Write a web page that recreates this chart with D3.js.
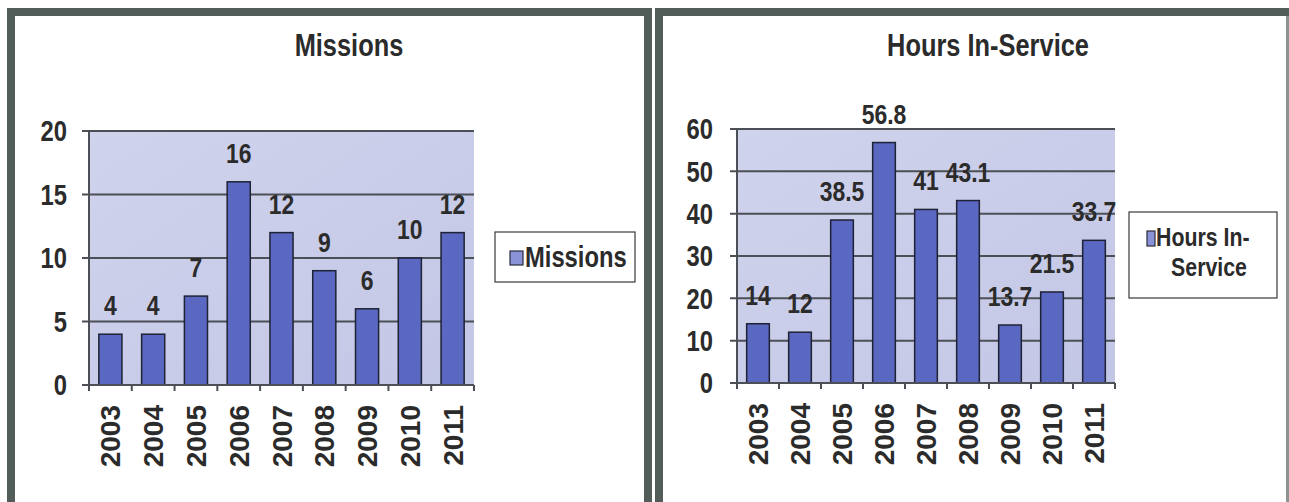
<!DOCTYPE html>
<html>
<head>
<meta charset="utf-8">
<script src="https://cdn.jsdelivr.net/npm/d3@7"></script>
<style>
  html, body { margin: 0; padding: 0; background: #ffffff; }
  svg { display: block; }
  text { font-family: "Liberation Sans", Arial, sans-serif; font-weight: bold; fill: #2b2b2b; }
</style>
</head>
<body>
<svg id="chart" width="1289" height="502"></svg>
<script>
// ---- data ----
const years = ["2003", "2004", "2005", "2006", "2007", "2008", "2009", "2010", "2011"];
const missions = [4, 4, 7, 16, 12, 9, 6, 10, 12];
const hours = [14, 12, 38.5, 56.8, 41, 43.1, 13.7, 21.5, 33.7];
const missionTicks = [0, 5, 10, 15, 20];
const hourTicks = [0, 10, 20, 30, 40, 50, 60];
const missionTitle = "Missions";
const hoursTitle = "Hours In-Service";
const missionLegend = ["Missions"];
const hoursLegend = ["Hours In-", "Service"];

const NARROW = 0.82;
const svg = d3.select("#chart");

// narrow (condensed) text helper: real text, horizontally condensed
function ntext(parent, x, y, anchor, size, txt) {
  const gg = parent.append("g").attr("transform", `translate(${x},${y}) scale(${NARROW},1)`);
  return gg.append("text").attr("x", 0).attr("y", 0).attr("text-anchor", anchor)
    .style("font-size", size + "px").text(txt);
}

// panel frames
const frameColor = "#525c59";
svg.append("rect").attr("x", 11).attr("y", 12).attr("width", 637).attr("height", 520)
  .attr("fill", "#fff").attr("stroke", frameColor).attr("stroke-width", 8);
svg.append("rect").attr("x", 659).attr("y", 12).attr("width", 650).attr("height", 520)
  .attr("fill", "#fff").attr("stroke", frameColor).attr("stroke-width", 8);
svg.append("rect").attr("x", 1286).attr("y", 16).attr("width", 3).attr("height", 486).attr("fill", "#8c9391");

// gradient for plot area
const defs = svg.append("defs");
const grad = defs.append("linearGradient").attr("id", "plotbg").attr("x1", 0).attr("y1", 0).attr("x2", 1).attr("y2", 1);
grad.append("stop").attr("offset", "0%").attr("stop-color", "#d0d3ec");
grad.append("stop").attr("offset", "100%").attr("stop-color", "#c3c7e6");

function drawChart(cfg) {
  const g = svg.append("g");
  const x = d3.scaleBand().domain(years).range([cfg.left, cfg.right]).paddingInner(0.46).paddingOuter(0.23);
  const y = d3.scaleLinear().domain([0, cfg.max]).range([cfg.bottom, cfg.top]);

  // plot background
  g.append("rect").attr("x", cfg.left).attr("y", y(cfg.max)).attr("width", cfg.right - cfg.left)
    .attr("height", y(0) - y(cfg.max)).attr("fill", "url(#plotbg)");

  // gridlines + y ticks
  g.selectAll(".grid").data(cfg.ticks).enter().append("line")
    .attr("x1", cfg.left - 7).attr("x2", cfg.right)
    .attr("y1", d => y(d)).attr("y2", d => y(d))
    .attr("stroke", "#4d4f56").attr("stroke-width", 2);

  // y axis line
  g.append("line").attr("x1", cfg.left).attr("x2", cfg.left).attr("y1", y(cfg.max)).attr("y2", y(0))
    .attr("stroke", "#4d4f56").attr("stroke-width", 2);

  // y tick labels
  cfg.ticks.forEach(d => {
    ntext(g, cfg.left - cfg.labelGap, y(d), "end", 29, d).attr("dy", "0.36em");
  });

  // bars
  g.selectAll(".bar").data(cfg.values).enter().append("rect")
    .attr("x", (d, i) => x(years[i])).attr("width", x.bandwidth())
    .attr("y", d => y(d)).attr("height", d => y(0) - y(d))
    .attr("fill", "#5a68c2").attr("stroke", "#1e2233").attr("stroke-width", 1.5);

  // x axis baseline and category ticks
  g.append("line").attr("x1", cfg.left - 7).attr("x2", cfg.right).attr("y1", y(0)).attr("y2", y(0))
    .attr("stroke", "#4d4f56").attr("stroke-width", 2);
  const bounds = d3.range(years.length + 1).map(i => cfg.left + i * x.step());
  g.selectAll(".xt").data(bounds).enter().append("line")
    .attr("x1", d => d).attr("x2", d => d).attr("y1", y(0)).attr("y2", y(0) + 6)
    .attr("stroke", "#4d4f56").attr("stroke-width", 2);

  // x labels rotated
  g.selectAll(".xlab").data(years).enter().append("text")
    .attr("transform", d => `translate(${x(d) + x.bandwidth() / 2},${y(0) + 20}) rotate(-90)`)
    .attr("dy", "0.36em").attr("text-anchor", "end").style("font-size", "28px").text(d => d);

  // data labels
  cfg.values.forEach((d, i) => {
    ntext(g, x(years[i]) + x.bandwidth() / 2, y(d) - 19, "middle", 28, d);
  });

  // title
  ntext(g, cfg.titleX, 56, "middle", 31, cfg.title);

  // legend
  const L = cfg.legend;
  g.append("rect").attr("x", L.x).attr("y", L.y).attr("width", L.w).attr("height", L.h)
    .attr("fill", "#fff").attr("stroke", "#3a3a3a").attr("stroke-width", 1.2);
  g.append("rect").attr("x", L.sx).attr("y", L.sy).attr("width", L.sw).attr("height", L.sh)
    .attr("fill", "#8a93d8").attr("stroke", "#2b2b3a").attr("stroke-width", 1.2);
  L.lines.forEach((t, i) => {
    ntext(g, L.tx[i], L.ty[i], L.anchor[i], L.size, t);
  });
}

drawChart({
  values: missions, ticks: missionTicks, max: 20,
  left: 89, right: 474, top: 131, bottom: 385, labelGap: 22,
  title: missionTitle, titleX: 349,
  legend: { x: 495, y: 232, w: 140, h: 50, sx: 510, sy: 251, sw: 13, sh: 14, size: 29,
            lines: missionLegend, tx: [525], ty: [267], anchor: ["start"] }
});

drawChart({
  values: hours, ticks: hourTicks, max: 60,
  left: 737, right: 1115, top: 129, bottom: 383, labelGap: 24,
  title: hoursTitle, titleX: 988,
  legend: { x: 1129, y: 212, w: 148, h: 86, sx: 1147, sy: 231, sw: 8, sh: 15, size: 26,
            lines: hoursLegend, tx: [1156, 1209], ty: [246, 276], anchor: ["start", "middle"] }
});
</script>
</body>
</html>
